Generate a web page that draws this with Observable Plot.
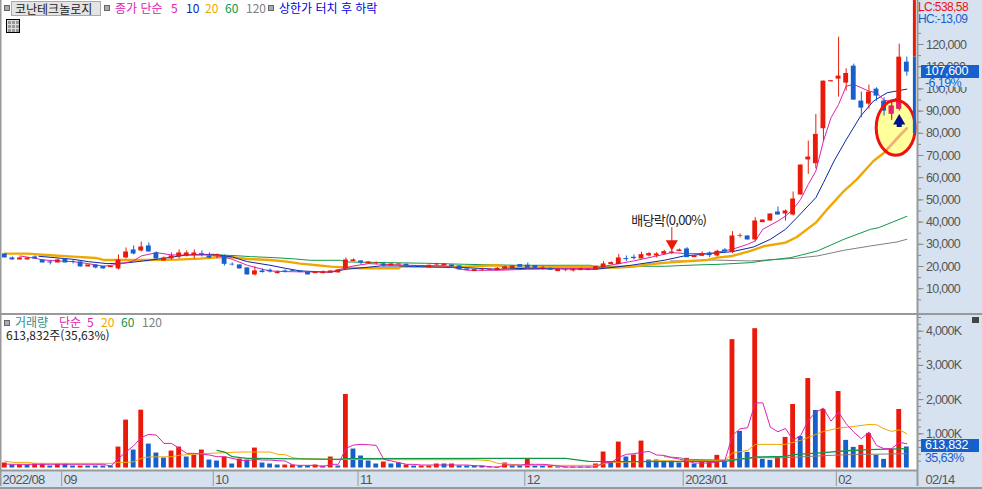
<!DOCTYPE html>
<html lang="ko"><head><meta charset="utf-8">
<script src="https://cdn.jsdelivr.net/npm/d3@7"></script>
<script src="https://cdn.jsdelivr.net/npm/@observablehq/plot@0.6"></script>
<style>
html,body{margin:0;padding:0;background:#fff;}
#wrap{position:relative;width:982px;height:489px;overflow:hidden;font-family:"Noto Sans CJK KR",sans-serif;font-size:12px;}
.t{position:absolute;white-space:nowrap;line-height:14px;}
.sq{position:absolute;width:4px;height:4px;background:#aaa;border:1px solid #666;}
.badge{position:absolute;background:#1560CC;color:#fff;font-family:"Liberation Sans",sans-serif;letter-spacing:-.3px;padding-left:4px;box-sizing:border-box;}
.lab{font-family:"Liberation Sans",sans-serif;letter-spacing:-.6px;}
#panel{position:absolute;left:917px;top:0;width:65px;height:489px;background:#D6E2F0;}
#strip{position:absolute;left:0;top:470px;width:982px;height:17px;background:#D6E2F0;}
</style></head><body>
<div id="wrap">
<div id="panel"></div><div id="strip"></div>
</div>
<script>
// ---- candles (won) ----
const opens=[25650,23850,22950,22950,24300,22950,22050,21600,23400,22200,22050,19800,20700,20100,19500,18900,23850,27450,27000,29250,26100,22500,23400,24300,24600,24900,25800,24750,24750,24750,21000,20700,19350,16200,18000,18300,16800,18000,18300,18000,17400,16800,16800,17100,17100,18900,22200,22500,21150,21300,21150,20250,20700,21000,20250,20250,19350,20700,20250,20700,20250,18900,17700,18450,18300,18300,18750,19050,20850,20550,20400,19050,19200,17700,18150,18000,18150,18150,18600,19350,20850,20850,23550,24150,23400,24750,24750,25500,25950,26700,27900,24000,24600,26100,24750,27450,26550,33600,33750,31950,39750,40500,44550,43650,43200,52200,68000,66300,82050,103200,104400,102600,110250,94500,93150,99900,94500,88650,90900,112050];
const closes=[23850,22950,23850,23850,23400,21600,21600,22950,21600,21900,19800,20700,19350,18900,20100,22950,26550,25650,28800,26550,23400,23850,24750,26100,26100,26100,25350,23850,25350,21000,20700,18900,16200,18000,17250,17550,17550,17550,17850,17250,16200,17400,17550,18000,18450,22950,22950,21600,22050,21600,20250,21150,21150,20250,19500,19500,20550,21000,21150,19800,18450,18300,18600,18750,18750,19200,19800,20250,19650,19200,19200,19350,18300,18750,18450,18750,18900,18750,20100,21150,21750,23850,23100,23550,25350,25800,25650,26700,26550,27450,24000,24900,25800,24900,26850,26550,33750,33900,31950,40500,40950,43650,43200,45000,50400,65700,69300,79500,103500,103700,105750,106950,94950,91350,98550,96750,90000,92250,114300,107600];
const highs=[25650,24300,24300,23850,24750,22950,22500,23400,23400,22800,22050,20700,20700,20100,20100,25200,28350,29250,31050,30600,26550,24300,26100,27450,27000,27450,27000,26100,25650,25200,21600,20700,19350,19800,18900,18900,18000,18450,18300,18000,17400,17400,18000,18000,18450,23850,23400,22500,22050,22050,21600,21150,21150,21000,20250,20250,20550,21450,21150,20700,20250,18900,18600,19200,18750,19500,20250,20250,20850,21600,20400,20100,19200,18750,18900,18750,19350,18750,20100,22200,22050,25500,24750,25200,26400,26250,26250,27300,27150,27900,28500,24900,26550,26550,27300,28050,35700,34650,33750,42000,40950,43650,46800,45450,53550,65700,76500,88500,103500,103700,123300,109050,111150,98550,101700,100500,96000,94500,120150,114300];
const lows=[23850,22950,22950,22950,23400,21600,20700,21600,21600,21150,19800,19800,18900,18900,19500,18450,23400,25200,26550,26550,22950,22500,22950,23400,24300,23400,24300,23400,23400,20250,20250,18900,16200,15750,17100,17100,16650,17100,17850,17250,16200,16800,16650,17100,17100,18450,22200,20700,21150,20700,19800,20250,20700,19500,19500,19500,19350,20100,20250,19200,18450,18300,17700,17700,18300,18000,18750,19050,19650,19200,19200,18450,18300,17700,17700,17550,18150,18150,18600,18900,20850,20850,22200,22950,23400,24300,23850,25050,25350,26700,24000,24000,24450,24000,24300,25800,25800,32850,31950,31050,39750,40500,43200,40500,42750,52200,61500,64000,76500,103200,96300,99000,94950,87000,90900,94500,87750,85950,90000,105750];
// ---- price moving averages: x = session index, y = won ----
const ma5X=[2,4,5,7,9,11,13,15,17,18,20,22,25,27,29,30,32,34,35,37,40,43,46,48,50,53,58,61,65,69,78,80,83,86,88,90,93,96,98,99,100,102,103,104,105,106,107,108,109,110,111,112,114,115,116,117,118];
const ma5Y=[24750,23700,22950,22500,22200,21300,20100,21000,22500,24750,26250,25200,25200,25200,24300,23250,20550,18750,18000,17700,17550,17550,20250,21300,21000,20550,20250,18300,18300,18750,19200,20700,22500,24750,26250,25800,25800,27750,30000,31500,36750,40500,42750,45750,50250,57000,63000,76500,87000,93000,101250,102000,99000,98250,94800,94500,96750];
const ma10X=[4.5,6.5,9,11,13.5,16,18.3,21,24,27.6,30,32,35,37,39,43,45,47.4,49.6,52,56.2,60.6,65,69,78,82.6,87,89.6,93,96,98.8,101,103,104.5,107,108,109.4,110.9,112.9,114.6,116.4,119];
const ma10Y=[24600,24000,23250,22200,21300,21600,22500,23700,25200,25500,24300,22200,20550,19200,18000,17400,18750,19500,20250,20250,19800,19500,18750,19200,18750,20550,22800,24750,25800,26700,28800,32250,36750,42000,51000,57750,67500,76500,87750,94500,98250,99900];
const ma20X=[0,3,6,9,12,13,15.7,19.2,22.7,25.8,28,30.2,32,35,37.2,39,41.2,43,47,52,52.2,60.6,65,66.7,77.3,78,80.8,83,85,87.4,90.5,92.7,94,96,98.4,100.1,103,104.5,107,108.5,110.7,112.4,114.6,116,116.6,118.2,119];
const ma20Y=[25800,25800,25050,24450,23850,22950,22950,22950,23100,23550,24150,24150,23400,22950,22200,21300,20550,19950,19200,19200,19950,19950,20550,19500,19950,19500,19500,19950,21000,21750,22500,22950,24000,24750,27000,29100,30750,33300,39750,45750,54000,59250,67500,71250,73500,79500,82200];
const ma60X=[28,30.4,32.4,35.5,38.3,40.3,43,44.3,45,50.4,55.5,60.6,67.6,77.3,77.7,87,91.3,94.4,98.4,100.6,103.7,107.2,110.7,114.2,115.3,119];
const ma60Y=[25200,24900,24450,24000,23400,22800,22800,22800,22050,21750,21450,21000,20550,20550,20100,20100,20700,21000,21750,22800,24000,27000,32250,36750,37500,42600];
const ma120X=[87.8,90.5,93,98.4,104.3,107.2,110.7,114.2,117.7,119];
const ma120Y=[22500,22500,22950,22500,23700,24750,27300,29250,31050,32250];
// ---- volume (thousand shares); 1 = red bar, 0 = blue bar ----
const volumes=[146,87,87,87,117,117,58,117,117,58,58,58,58,58,58,612,1400,525,1691,700,437,292,496,612,321,379,525,233,204,321,117,262,233,583,146,117,87,87,87,58,58,87,58,321,58,2150,554,350,204,117,175,117,146,87,58,58,58,117,117,117,58,58,58,58,29,29,146,58,58,262,58,58,58,29,29,29,29,29,117,467,175,758,321,379,787,233,233,204,204,146,282,117,175,175,369,194,3752,1069,457,4073,253,224,311,894,1857,923,2615,1682,1711,0,2236,807,603,661,1011,369,253,544,1711,614];
const volUp=[1,0,1,0,1,1,0,1,0,0,1,0,0,0,0,1,1,0,1,0,0,0,1,1,0,1,1,0,0,1,0,1,0,1,0,0,0,1,1,0,0,1,0,1,0,1,0,0,0,0,1,0,0,1,0,1,1,1,0,1,0,0,0,0,0,1,1,0,0,1,0,0,1,0,1,1,0,0,1,1,0,1,0,1,1,0,0,0,0,0,1,0,1,1,1,0,1,0,0,1,0,0,1,1,1,0,1,0,1,1,1,0,0,1,1,0,0,1,1,0];
const vma5=[117,107,107,107,107,107,107,107,107,107,107,107,107,107,58,282,467,651,894,982,962,719,719,573,428,428,408,379,330,330,282,233,214,253,233,233,214,204,87,78,78,78,39,107,107,573,671,690,680,661,253,204,156,107,107,87,87,87,87,87,87,87,68,58,39,20,87,87,87,107,107,107,87,58,29,29,29,29,29,156,156,311,399,418,457,486,379,369,301,262,204,146,146,146,175,224,953,1147,1176,1905,1905,1196,1059,1157,807,953,1390,1633,1750,1371,1633,1293,1050,855,1050,661,564,564,748,710];
const vma20X=[0,1,3,4,14,15,16,17,18,19,22,23,25,28,31,35,36,37,38,39,44,45,52,62,64,65,68,70,78,80,83,86,89,90,95,96,98,99,103,105,107,108,110,112,114,115,116,117,118,119];
const vma20Y=[204,165,165,136,136,165,165,185,282,321,330,370,408,437,467,467,398,389,301,272,250,250,243,243,214,136,87,78,78,165,175,214,204,219,219,438,515,690,690,807,982,1069,1166,1215,1273,1263,1147,1069,1118,1001];
const vma60X=[28,29,30,32,44,45,68,74,75,77,89,90,95,99,103,104,108,111,114,119];
const vma60Y=[515,467,330,282,253,272,282,282,253,194,185,194,194,321,340,389,447,505,535,564];
const vma120X=[87,89,90,95,99,103,108,111,119];
const vma120Y=[330,301,253,233,301,301,360,389,418];
// ---- axes ----
const priceTicks=d3.range(10000,120001,10000);
const priceMinor=d3.range(5000,135001,5000);
const volTicks=[1000,2000,3000,4000];
const volMinor=d3.range(200,4401,200);
const monthIdx=[7.5,27.5,46.6,68.6,89.5,109.7];
const monthLabels=["2022/08","09","10","11","12","2023/01","02"];
const lastLabel="02/14";
// ---- annotations ----
const divIdx=[88], divLabel=["배당락(0,00%)"];
const rangeTop=139800, rangeMid=114300, rangeLow=79900;
const C={red:"#EA1A0A",blue:"#1560CC",pink:"#E020B0",navy:"#0A28A8",orange:"#F0A800",green:"#109848",grey:"#808080",axis:"#555",line:"#999"};
const idx=d3.range(opens.length);
const X={type:"linear",domain:[-0.567,120.41],range:[0,917]};
const pair=(xs,ys)=>xs.map((x,i)=>({x,y:ys[i]}));
const col=i=>closes[i]>=opens[i]?C.red:C.blue;
const axisStyle={background:"transparent",fontFamily:"'Liberation Sans',sans-serif",fontSize:"12.5px",letterSpacing:"-.7px",color:C.axis};

const priceChart=Plot.plot({
  width:982,height:313,marginTop:0,marginBottom:0,marginLeft:0,marginRight:65,
  style:axisStyle,
  x:{...X,axis:null},
  y:{domain:[139820,-1171],range:[0,313],axis:null},
  marks:[
    (index,{x,y})=>{const e=d3.create("svg:ellipse");
      e.attr("cx",x(117.6)).attr("cy",y(82300)).attr("rx",19.5).attr("ry",27.5).attr("fill","#FFFF9C");return e.node();},
    Plot.line(pair(ma120X,ma120Y),{x:"x",y:"y",stroke:C.grey,strokeWidth:1}),
    Plot.line(pair(ma60X,ma60Y),{x:"x",y:"y",stroke:C.green,strokeWidth:1}),
    Plot.line(pair(ma20X,ma20Y),{x:"x",y:"y",stroke:C.orange,strokeWidth:2.4}),
    Plot.line(pair(ma20X,ma20Y).filter(d=>d.x>=116.6),{x:"x",y:"y",stroke:"#F0B080",strokeWidth:2.4}),
    Plot.line(pair(ma10X,ma10Y),{x:"x",y:"y",stroke:C.navy,strokeWidth:1}),
    Plot.line(pair(ma5X,ma5Y),{x:"x",y:"y",stroke:C.pink,strokeWidth:1}),
    Plot.ruleX(idx,{x:i=>i,y1:i=>lows[i],y2:i=>highs[i],stroke:col,strokeWidth:1}),
    Plot.rect(idx,{x1:i=>i-.32,x2:i=>i+.32,y1:i=>opens[i],y2:i=>closes[i],fill:col}),
    Plot.ruleX([117],{x:i=>i,y1:i=>lows[i],y2:i=>highs[i],stroke:"#E6207A"}),
    Plot.rect([117],{x1:i=>i-.32,x2:i=>i+.32,y1:i=>opens[i],y2:i=>closes[i],fill:"#E6207A"}),
    Plot.rect([118],{x1:i=>i-.32,x2:i=>i+.32,y1:i=>opens[i],y2:()=>94700,fill:"#E6207A"}),
    (index,{x,y})=>{const e=d3.create("svg:ellipse");
      e.attr("cx",x(117.6)).attr("cy",y(82300)).attr("rx",19.5).attr("ry",27.5).attr("fill","none").attr("stroke","#F01010").attr("stroke-width",3);return e.node();},
    Plot.ruleX([118],{x:d=>d,y1:()=>82600,y2:()=>84600,stroke:"#00108C",strokeWidth:5}),
    Plot.dot([118],{x:d=>d,y:()=>85500,symbol:"triangle",r:4.5,fill:"#00108C"}),
    Plot.ruleX([120],{x:d=>d,y1:()=>rangeTop,y2:()=>rangeMid,stroke:C.red,strokeWidth:3}),
    Plot.ruleX([120],{x:d=>d,y1:()=>rangeMid,y2:()=>rangeLow,stroke:C.blue,strokeWidth:3}),
    Plot.ruleX(divIdx,{x:d=>d,y1:()=>37500,y2:()=>31000,stroke:C.red,strokeWidth:1}),
    Plot.dot(divIdx,{x:d=>d,y:()=>30200,symbol:"triangle",rotate:180,r:4.5,fill:C.red}),
    Plot.text(divLabel,{x:()=>87.6,y:()=>40500,text:d=>d,fontFamily:"'Noto Sans CJK KR',sans-serif",fontSize:13,letterSpacing:0,fill:"#222"}),
    Plot.axisY({anchor:"right",label:null,ticks:priceMinor,tickSize:3,tickFormat:()=>"",stroke:"#888"}),
    Plot.axisY({anchor:"right",label:null,ticks:priceTicks,tickSize:5.5,tickPadding:3,tickFormat:d3.format(","),stroke:"#888",fill:C.axis,textAnchor:"start"}),
    Plot.ruleX([120.41],{x:d=>d,stroke:"#999",strokeWidth:2}),
    Plot.ruleX([-0.567],{x:d=>d,stroke:"#999",strokeWidth:2})
  ]
});

const stripBottom=-541, stripLabelY=-337;
const volChart=Plot.plot({
  width:982,height:174,marginTop:0,marginBottom:18,marginLeft:0,marginRight:65,
  style:axisStyle,
  x:{...X,axis:null},
  y:{domain:[4488,-73],range:[0,156],axis:null},
  marks:[
    Plot.rect(idx,{x1:i=>i-.32,x2:i=>i+.32,y1:()=>0,y2:i=>volumes[i],fill:i=>volUp[i]?C.red:C.blue}),
    Plot.line(pair(vma120X,vma120Y),{x:"x",y:"y",stroke:C.grey,strokeWidth:1}),
    Plot.line(pair(vma20X,vma20Y),{x:"x",y:"y",stroke:C.orange,strokeWidth:1}),
    Plot.line(pair(vma60X,vma60Y),{x:"x",y:"y",stroke:C.green,strokeWidth:1.3}),
    Plot.line(vma5.map((y,x)=>({x,y})),{x:"x",y:"y",stroke:C.pink,strokeWidth:1}),
    Plot.axisY({anchor:"right",label:null,ticks:volMinor,tickSize:3,tickFormat:()=>"",stroke:"#888"}),
    Plot.axisY({anchor:"right",label:null,ticks:volTicks,tickSize:5.5,tickPadding:3,tickFormat:d=>d3.format(",")(d)+"K",stroke:"#888",fill:C.axis,textAnchor:"start"}),
    Plot.ruleX([120.41],{x:d=>d,y1:()=>4488,y2:()=>stripBottom,stroke:"#999",strokeWidth:2}),
    Plot.ruleX([-0.567],{x:d=>d,y1:()=>4488,y2:()=>stripBottom,stroke:"#999",strokeWidth:2}),
    Plot.ruleY([-73],{stroke:"#999",strokeWidth:2}),
    Plot.ruleX(monthIdx,{x:d=>d,y1:()=>-73,y2:()=>stripBottom,stroke:"#999"}),
    Plot.text([-0.567,...monthIdx],{x:d=>d,y:()=>stripLabelY,dx:2,textAnchor:"start",text:(d,i)=>monthLabels[i],fill:C.axis,fontSize:13,letterSpacing:0}),
    Plot.text([lastLabel],{x:()=>120.41,y:()=>stripLabelY,dx:8,textAnchor:"start",text:d=>d,fill:C.axis,fontSize:13})
  ]
});

const wrap=document.getElementById("wrap");
priceChart.style.cssText+=";position:absolute;left:0;top:0;overflow:visible";
volChart.style.cssText+=";position:absolute;left:0;top:314px;overflow:visible";
wrap.append(priceChart,volChart);

function add(cls,x,y,txt,color,extra){const d=document.createElement("div");d.className=cls;d.style.left=x+"px";d.style.top=y+"px";if(txt)d.textContent=txt;if(color)d.style.color=color;if(extra)d.style.cssText+=";"+extra;wrap.append(d);return d;}
add("",0,313,"","", "position:absolute;width:982px;height:2px;background:#999");
add("",0,487,"","", "position:absolute;width:982px;height:2px;background:#999");
// header row
add("sq",4,5);
add("t",11,1,"코난테크놀로지","#222","width:90px;height:15px;box-sizing:border-box;background:#E4E4E4;border:1px solid #aaa;padding-left:3px;line-height:13px");
add("sq",104,5);
add("t",115,1,"종가 단순",C.pink);
add("t",171,1,"5",C.pink);
add("t",186,1,"10",C.navy);
add("t",205,1,"20",C.orange);
add("t",225,1,"60",C.green);
add("t",246,1,"120",C.grey);
add("sq",268,5);
add("t",279,1,"상한가 터치 후 하락","#0000E0");
// grid icon
add("",6,19,"","", "position:absolute;width:12px;height:12px;border:1px solid #000;background:#999;background-image:linear-gradient(#ddd 0 1px,transparent 1px),linear-gradient(90deg,#ddd 0 1px,transparent 1px);background-size:4px 4px");
// right panel values
add("t lab",918,0,"LC:538,58","#F01010","font-size:12px");
add("t lab",918,12,"HC:-13,09",C.blue,"font-size:12px");
add("badge",921,65,"107,600","", "width:58px;height:13px;line-height:13px;font-size:12.5px");
add("t lab",921,78,"-6,19%",C.blue,"font-size:12.5px;background:#D6E2F0;width:54px;padding-left:4px;height:9px;line-height:11px;overflow:visible");
add("badge",921,439,"613,832","", "width:58px;height:13px;line-height:13px;font-size:12.5px");
add("t lab",925,451,"35,63%",C.blue,"font-size:12.5px");
add("",972,317,"","", "position:absolute;width:7px;height:6px;background:#444");
// volume legend
add("sq",4,320);
add("t",15,315,"거래량","#2E9090");
add("t",59,315,"단순",C.pink);
add("t",87,315,"5",C.pink);
add("t",101,315,"20",C.orange);
add("t",121,315,"60",C.green);
add("t",142,315,"120",C.grey);
add("t",6,328,"613,832주(35,63%)","#222");
</script>
</body></html>
